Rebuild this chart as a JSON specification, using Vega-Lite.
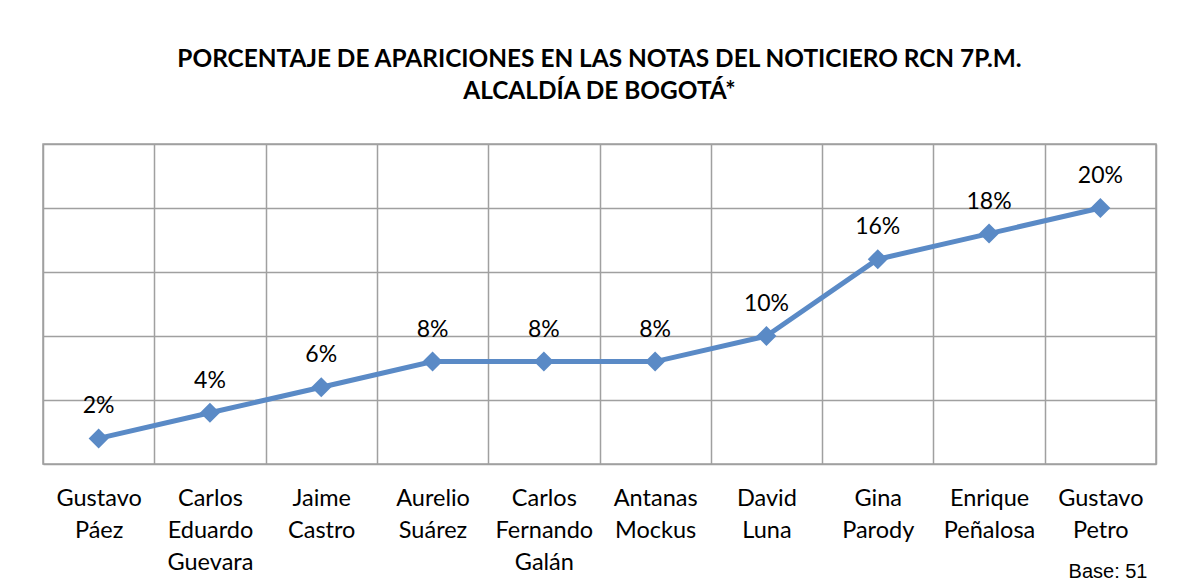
{
  "$schema": "https://vega.github.io/schema/vega-lite/v6.json",
  "width": 1113,
  "height": 320,
  "autosize": {"type": "none"},
  "padding": {"left": 43, "top": 144, "right": 23, "bottom": 123},
  "background": "white",
  "title": {
    "text": ["PORCENTAJE DE APARICIONES EN LAS NOTAS DEL NOTICIERO RCN 7P.M.", "ALCALDÍA DE BOGOTÁ*"],
    "font": "Lato",
    "fontSize": 24.4,
    "fontWeight": "bold",
    "color": "black",
    "lineHeight": 32,
    "offset": 40,
    "anchor": "middle"
  },
  "data": {
    "values": [
      {"candidato": "Gustavo Páez", "pct": 0.02},
      {"candidato": "Carlos Eduardo Guevara", "pct": 0.04},
      {"candidato": "Jaime Castro", "pct": 0.06},
      {"candidato": "Aurelio Suárez", "pct": 0.08},
      {"candidato": "Carlos Fernando Galán", "pct": 0.08},
      {"candidato": "Antanas Mockus", "pct": 0.08},
      {"candidato": "David Luna", "pct": 0.10},
      {"candidato": "Gina Parody", "pct": 0.16},
      {"candidato": "Enrique Peñalosa", "pct": 0.18},
      {"candidato": "Gustavo Petro", "pct": 0.20}
    ]
  },
  "encoding": {
    "x": {
      "field": "candidato",
      "type": "nominal",
      "sort": null,
      "scale": {"type": "band", "paddingInner": 0, "paddingOuter": 0},
      "axis": {
        "tickBand": "extent",
        "labelExpr": "split(datum.label, ' ')",
        "labelFont": "Lato",
        "labelFontSize": 23.5,
        "labelLineHeight": 32,
        "labelColor": "black",
        "labelAngle": 0,
        "labelPadding": 22,
        "labelOverlap": false,
        "labelBound": false,
        "labelFlush": false,
        "ticks": false,
        "domain": false,
        "grid": true,
        "gridColor": "#A0A0A0",
        "gridWidth": 1.5,
        "title": "Base: 51",
        "titleFont": "Liberation Sans",
        "titleFontSize": 20,
        "titleFontWeight": "normal",
        "titleColor": "black",
        "titleX": 1104,
        "titleY": 113,
        "titleAlign": "right",
        "titleBaseline": "alphabetic"
      }
    },
    "y": {
      "field": "pct",
      "type": "quantitative",
      "scale": {"domain": [0, 0.25]},
      "axis": {
        "values": [0, 0.05, 0.1, 0.15, 0.2, 0.25],
        "labels": false,
        "ticks": false,
        "domain": false,
        "title": null,
        "grid": true,
        "gridColor": "#A0A0A0",
        "gridWidth": 1.5
      }
    }
  },
  "layer": [
    {"mark": {"type": "line", "color": "#5A8AC6", "strokeWidth": 5}},
    {"mark": {"type": "point", "shape": "diamond", "filled": true, "size": 400, "color": "#5A8AC6", "opacity": 1}},
    {
      "mark": {"type": "text", "font": "Lato", "fontSize": 23, "dy": -25, "baseline": "alphabetic", "color": "black"},
      "encoding": {"text": {"field": "pct", "format": ".0%"}}
    }
  ],
  "config": {"view": {"stroke": "#A0A0A0", "strokeWidth": 1.5}}
}
